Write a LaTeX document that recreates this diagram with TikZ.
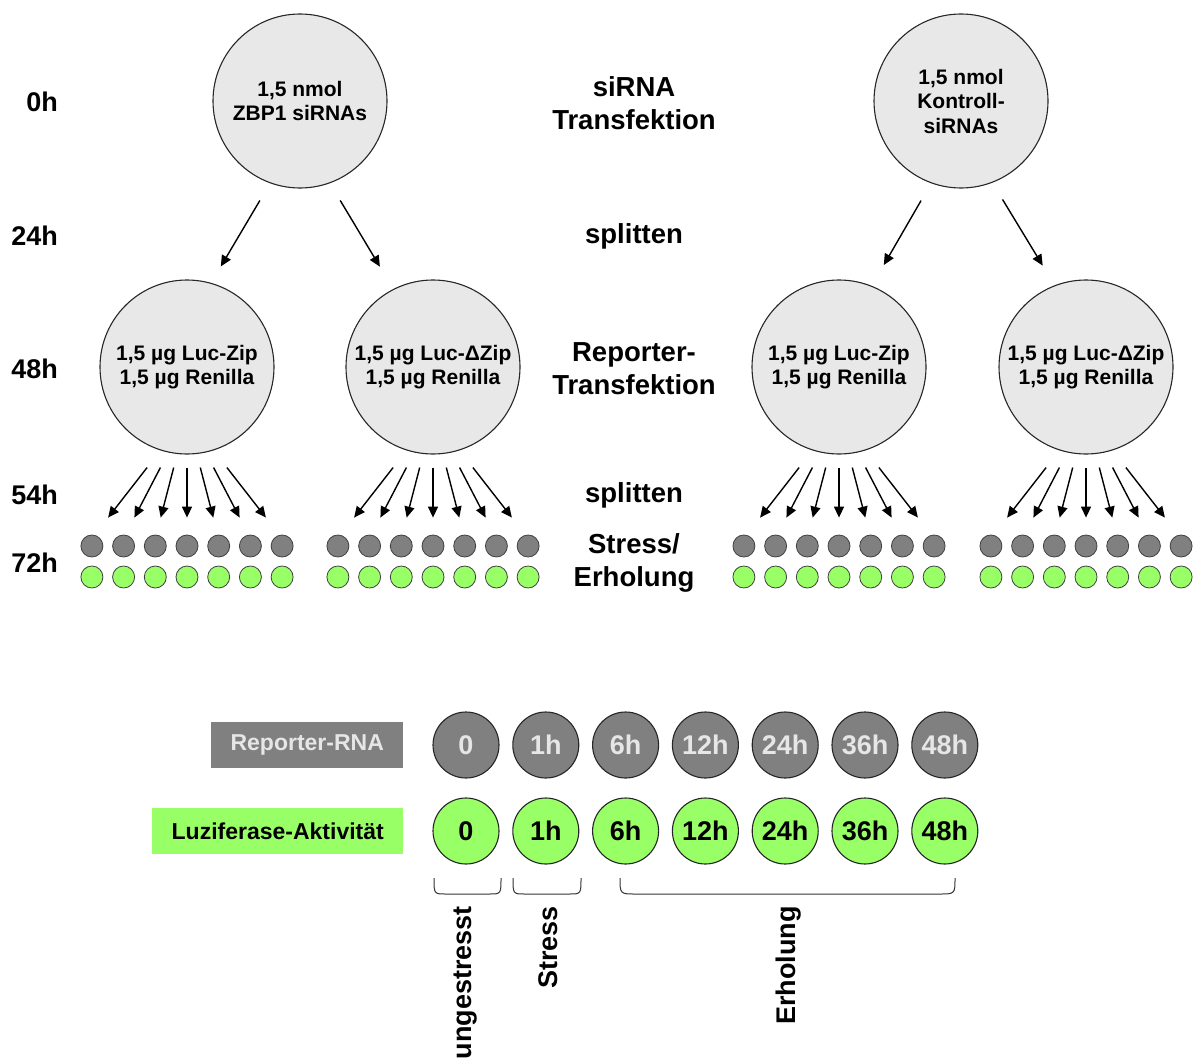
\documentclass[tikz,border=0pt]{standalone}
\usepackage{fontspec}
\setmainfont{Liberation Sans}
\usepackage{xcolor}
\usetikzlibrary{arrows.meta, positioning, calc}
\definecolor{cellgray}{HTML}{E8E8E8}
\definecolor{rnagray}{HTML}{808080}
\definecolor{lucgreen}{HTML}{99FF66}
\definecolor{paletext}{HTML}{E6E6E6}
\tikzset{
  cell/.style={
    circle, draw=black!85, line width=1.1pt, fill=cellgray,
    minimum size=174pt, inner sep=0pt, align=center,
    font=\fontsize{21}{24.5}\selectfont\bfseries
  },
  dotbase/.style = {circle, draw=black!75, line width=0.8pt, minimum size=22pt, inner sep=0pt},
  dotrna/.style  = {dotbase, fill=rnagray},
  dotluc/.style  = {dotbase, fill=lucgreen},
  timelbl/.style = {anchor=east, inner sep=0pt, font=\fontsize{27}{32}\selectfont\bfseries},
  phase/.style   = {align=center, font=\fontsize{27.5}{33}\selectfont\bfseries},
  arr/.style     = {-{Triangle[length=11pt,width=10pt]}, line width=1.4pt},
  ballbase/.style= {circle, draw=black!85, line width=1.1pt, minimum size=66pt,
                    inner sep=0pt, font=\fontsize{27}{32}\selectfont\bfseries},
  rnaball/.style = {ballbase, fill=rnagray, text=paletext},
  lucball/.style = {ballbase, fill=lucgreen, text=black},
  legbox/.style  = {rectangle, minimum height=46pt, inner sep=0pt,
                    font=\fontsize{23}{28}\selectfont\bfseries},
  rnabox/.style  = {legbox, fill=rnagray, text=paletext, minimum width=192pt},
  lucbox/.style  = {legbox, fill=lucgreen, minimum width=251pt},
  bracket/.style = {line width=1pt, draw=black!80},
  bracelbl/.style= {rotate=90, anchor=east, inner sep=0pt,
                    font=\fontsize{27}{32}\selectfont\bfseries},
}
\begin{document}
\begin{tikzpicture}[x=1pt, y=-1pt]
  \useasboundingbox (0,0) rectangle (1196,1062);

  % Time axis
  \node[timelbl] (t0)  at (58,102) {0h};
  \node[timelbl] (t24) at (58,236) {24h};
  \node[timelbl] (t48) at (58,369) {48h};
  \node[timelbl] (t54) at (58,495) {54h};
  \node[timelbl] (t72) at (58,563) {72h};

  % Steps
  \node[phase] (sirna) at (634,103) {siRNA\\Transfektion};
  \node[phase] (split1) at (634,236) {splitten};
  \node[phase] (rep)   at (634,369) {Reporter-\\Transfektion};
  \node[phase] (split2) at (634,495) {splitten};
  \node[phase] (stress) at (634,563) {Stress/\\Erholung};

  % Cells
  \node[cell] (zbp)  at (300,101) {1,5 nmol\\ZBP1 siRNAs};
  \node[cell] (ktr)  at (961,101) {1,5 nmol\\Kontroll-\\siRNAs};
  \node[cell] (luca) at (187,367) {1,5 µg Luc-Zip\\1,5 µg Renilla};
  \node[cell] (lucb) at (433,367) {1,5 µg Luc-ΔZip\\1,5 µg Renilla};
  \node[cell] (lucc) at (839,367) {1,5 µg Luc-Zip\\1,5 µg Renilla};
  \node[cell] (lucd) at (1086,367) {1,5 µg Luc-ΔZip\\1,5 µg Renilla};

  % Arrows
  \draw[arr, shorten <=20pt, shorten >=19pt] (zbp.250) -- (luca.74);
  \draw[arr, shorten <=20pt, shorten >=26pt] (zbp.290) -- (lucb.117);
  \draw[arr, shorten <=20pt, shorten >=24pt] (ktr.250) -- (lucc.68);
  \draw[arr, shorten <=19.5pt, shorten >=23pt] (ktr.291) -- (lucd.111);

  % Wells
  \foreach \c/\cx in {luca/187, lucb/433, lucc/839, lucd/1086} {
    \foreach \k in {-3,...,3} {
      \node[dotrna] (\c-r\k) at ({\cx+31.7*(\k)},546) {};
      \node[dotluc] (\c-g\k) at ({\cx+31.7*(\k)},577) {};
      \draw[arr] ([xshift={13.3pt*(\k)}, yshift=-13pt]\c.south)
        -- ([xshift={-5.4pt*(\k)}, yshift=17pt]\c-r\k.north);
    }
  }

  % Time points
  \foreach \t [count=\i from 0] in {0,1h,6h,12h,24h,36h,48h} {
    \node[rnaball] (rna\i) at ({466+79.8*\i},745) {\t};
    \node[lucball] (luc\i) at ({466+79.8*\i},831) {\t};
  }
  \node[rnabox, left=29pt of rna0] (rnalbl) {Reporter-RNA};
  \node[lucbox, left=29pt of luc0] (luclbl) {Luziferase-Aktivität};

  % Phases
  \draw[bracket] (434,878) .. controls (434,894) .. (446,894) -- (489,894) .. controls (501,894) .. (501,878);
  \draw[bracket] (513,878) .. controls (513,894) .. (525,894) -- (569,894) .. controls (581,894) .. (581,878);
  \draw[bracket] (620,878) .. controls (620,894) .. (636,894) -- (939,894) .. controls (955,894) .. (955,878);
  \node[bracelbl] (unstr) at (466,906) {ungestresst};
  \node[bracelbl] (str)   at (548,906) {Stress};
  \node[bracelbl] (rec)   at (789,906) {Erholung};

\end{tikzpicture}
\end{document}
